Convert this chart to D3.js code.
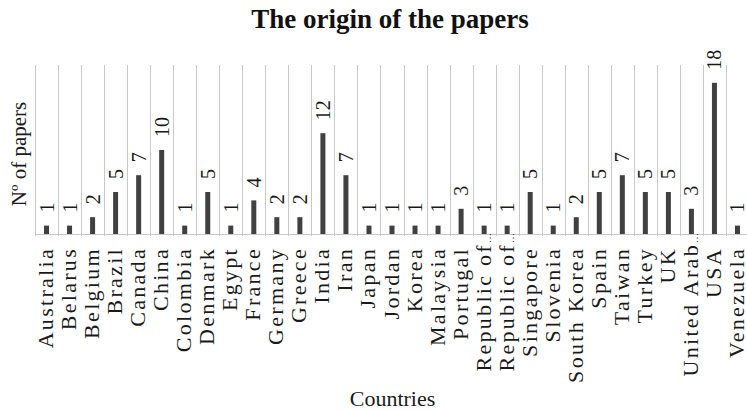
<!DOCTYPE html>
<html><head><meta charset="utf-8">
<script src="https://cdn.jsdelivr.net/npm/d3@7"></script>
<style>body{margin:0;background:#fff}svg{display:block}</style>
</head><body>
<svg id="c" width="747" height="410"></svg>
<script>
const categories = ["Australia","Belarus","Belgium","Brazil","Canada","China","Colombia","Denmark","Egypt","France","Germany","Greece","India","Iran","Japan","Jordan","Korea","Malaysia","Portugal","Republic of…","Republic of…","Singapore","Slovenia","South Korea","Spain","Taiwan","Turkey","UK","United Arab…","USA","Venezuela"];
const values = [1,1,2,5,7,10,1,5,1,4,2,2,12,7,1,1,1,1,3,1,1,5,1,2,5,7,5,5,3,18,1];
const titleText = "The origin of the papers";
const xTitle = "Countries";
const yTitle = "Nº of papers";

const svg = d3.select("#c");
const ids = categories.map((c,i)=>i);
const x = d3.scaleBand().domain(ids).range([35, 749]).padding(0);
const y = d3.scaleLinear().domain([0,20]).range([234, 66]);

// gridlines
svg.append("g").selectAll("line").data(ids.concat([ids.length])).join("line")
  .attr("x1", d => d < ids.length ? Math.round(x(d))+0.5 : 749.5)
  .attr("x2", d => d < ids.length ? Math.round(x(d))+0.5 : 749.5)
  .attr("y1", y(20)-1).attr("y2", y(0)+2)
  .attr("stroke","#c8c8c8").attr("stroke-width",1);
svg.append("line").attr("x1",35).attr("x2",749).attr("y1",y(0)+0.5).attr("y2",y(0)+0.5)
  .attr("stroke","#c8c8c8");

// bars
const bw = 5;
svg.append("g").selectAll("rect").data(ids).join("rect")
  .attr("x", d => x(d)+x.bandwidth()/2-bw/2)
  .attr("width", bw)
  .attr("y", d => y(values[d]))
  .attr("height", d => y(0)-y(values[d]))
  .attr("fill","#404040");

// value labels
svg.append("g").selectAll("text").data(ids).join("text")
  .attr("transform", d => `translate(${x(d)+x.bandwidth()/2+7},${y(values[d])-13}) rotate(-90)`)
  .attr("font-family","'Liberation Serif', serif").attr("font-size",20)
  .attr("fill","#1a1a1a").attr("text-anchor","start")
  .text(d => values[d]);

// category labels
const catG = svg.append("g");
ids.forEach(d => {
  const lab = categories[d];
  const trunc = lab.endsWith("…");
  const t = catG.append("text")
    .attr("transform", `translate(${x(d)+x.bandwidth()/2+6.5},${trunc ? 233 : 247}) rotate(-90)`)
    .attr("font-family","'Liberation Serif', serif").attr("font-size",22)
    .attr("letter-spacing","2.3px")
    .attr("fill","#1a1a1a").attr("text-anchor","end");
  if (trunc) {
    t.append("tspan").text(lab.slice(0,-1));
    t.append("tspan").attr("font-size",10).attr("letter-spacing","0px").text("…");
  } else {
    t.text(lab);
  }
});

// titles
svg.append("text").attr("x",390).attr("y",28).attr("text-anchor","middle")
  .attr("font-family","'Liberation Serif', serif").attr("font-weight","bold").attr("font-size",27)
  .attr("fill","#111").text(titleText);
svg.append("text").attr("x",392.5).attr("y",406).attr("text-anchor","middle")
  .attr("font-family","'Liberation Serif', serif").attr("font-size",22)
  .attr("fill","#1a1a1a").text(xTitle);
svg.append("text").attr("transform","translate(26,154) rotate(-90)").attr("text-anchor","middle")
  .attr("font-family","'Liberation Serif', serif").attr("font-size",21)
  .attr("fill","#1a1a1a").text(yTitle);
</script>
</body></html>
